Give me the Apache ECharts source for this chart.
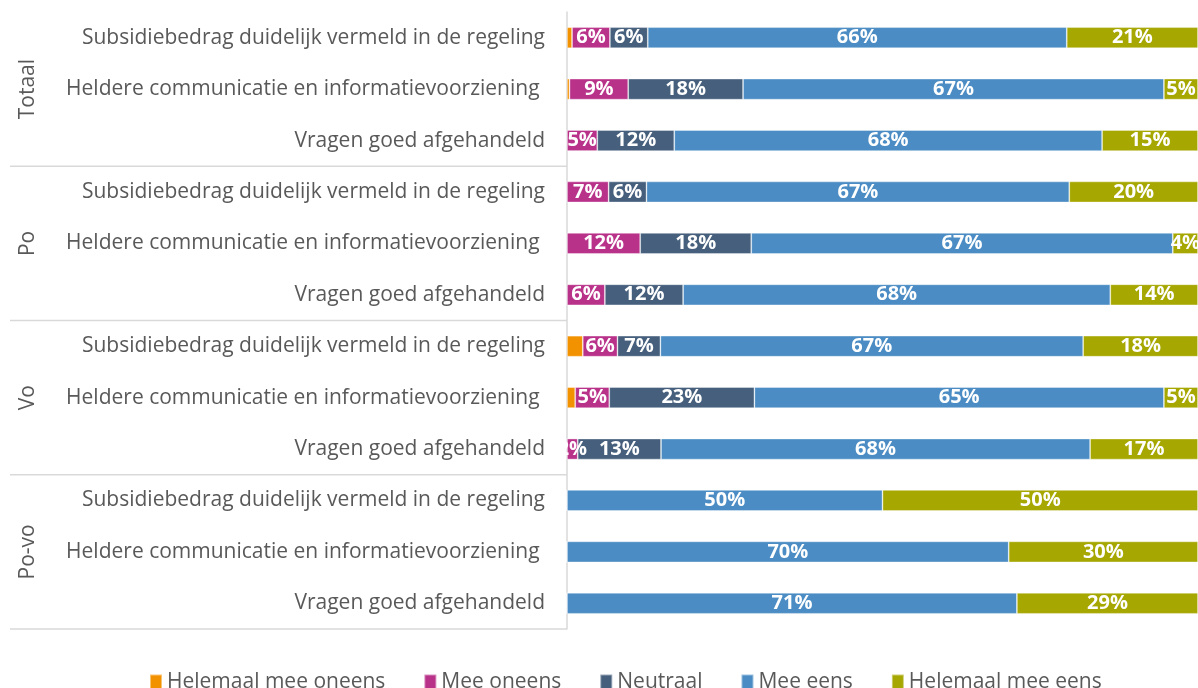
<!DOCTYPE html>
<html>
<head>
<meta charset="utf-8">
<script src="https://cdn.jsdelivr.net/npm/echarts@6/dist/echarts.min.js"></script>
<style>
    html, body { margin: 0; padding: 0; background: #fff; }
    #main { width: 1198px; height: 688px; }
</style>
</head>
<body>
<div id="main"></div>
<script>
// categorieen (per groep drie vragen)
var vragen = ['Subsidiebedrag duidelijk vermeld in de regeling', 'Heldere communicatie en informatievoorziening ', 'Vragen goed afgehandeld'];
var groepen = ['Totaal', 'Po', 'Vo', 'Po-vo'];
var categories = [];
groepen.forEach(function () {
    vragen.forEach(function (v) { categories.push(v); });
});
// percentages per rij (boven naar beneden)
var heelOneens = [0.8, 0.4, 0, 0, 0, 0, 2.5, 1.3, 0, 0, 0, 0];
var oneens = [6.0, 9.3, 4.8, 6.6, 11.6, 6.0, 5.5, 5.4, 1.7, 0, 0, 0];
var neutraal = [6.0, 18.2, 12.2, 6.0, 17.6, 12.4, 6.8, 23.0, 13.2, 0, 0, 0];
var eens = [66.4, 66.7, 67.8, 67.0, 66.8, 67.7, 67.0, 64.9, 68.0, 50, 70, 71.3];
var heelEens = [20.8, 5.4, 15.2, 20.4, 4.0, 13.9, 18.2, 5.4, 17.1, 50, 30, 28.7];
var seriesNames = ['Helemaal mee oneens', 'Mee oneens', 'Neutraal', 'Mee eens', 'Helemaal mee eens'];
var seriesData = [heelOneens, oneens, neutraal, eens, heelEens];
var colors = ['#f39200', '#b9328a', '#455f7c', '#4a8cc3', '#a6a700'];

var font = '"Open Sans", sans-serif';
var chart = echarts.init(document.getElementById('main'), null, { renderer: 'canvas' });

var series = seriesNames.map(function (name, i) {
    return {
        name: name,
        type: 'bar',
        stack: 'totaal',
        barWidth: 21,
        data: seriesData[i],
        itemStyle: { color: colors[i], borderColor: 'rgba(255,255,255,0.45)', borderWidth: 0.8 },
        label: {
            show: i > 0, // geen labels voor de kleine oranje stukjes
            position: 'inside',
            color: '#fff',
            fontWeight: 'bold',
            fontSize: 20,
            fontFamily: font,
            formatter: function (p) {
                return p.value > 0 ? Math.round(p.value) + '%' : '';
            }
        }
    };
});

chart.setOption({
    animation: false,
    color: colors,
    grid: { left: 567, right: 0, top: 12, bottom: 59 },
    xAxis: { type: 'value', min: 0, max: 100, show: false },
    yAxis: {
        type: 'category',
        inverse: true,
        data: categories,
        axisLine: { lineStyle: { color: '#d9d9d9', width: 1.5 } },
        axisTick: { show: false },
        axisLabel: { color: '#595959', fontSize: 21, fontFamily: font, margin: 22 }
    },
    legend: {
        data: seriesNames,
        top: 667,
        left: 144,
        itemWidth: 12,
        itemHeight: 16,
        itemGap: 38,
        icon: 'rect',
        textStyle: { color: '#595959', fontSize: 21, fontFamily: font }
    },
    series: series
});

// groepslabels en scheidingslijnen, posities via de as
var graphics = [];
var half = (chart.convertToPixel({ yAxisIndex: 0 }, 1) - chart.convertToPixel({ yAxisIndex: 0 }, 0)) / 2;
groepen.forEach(function (g, gi) {
    var first = chart.convertToPixel({ yAxisIndex: 0 }, gi * 3);
    var last = chart.convertToPixel({ yAxisIndex: 0 }, gi * 3 + 2);
    var mid = (first + last) / 2;
    graphics.push({
        type: 'text',
        x: 28,
        y: mid,
        rotation: Math.PI / 2,
        style: {
            text: g,
            fill: '#595959',
            font: '21px ' + font,
            align: 'center',
            verticalAlign: 'middle'
        }
    });
    graphics.push({
        type: 'line',
        shape: { x1: 10, y1: last + half, x2: 567, y2: last + half },
        style: { stroke: '#d9d9d9', lineWidth: 1.5 }
    });
});
chart.setOption({ graphic: graphics });
window.onresize = chart.resize;
</script>
</body>
</html>
